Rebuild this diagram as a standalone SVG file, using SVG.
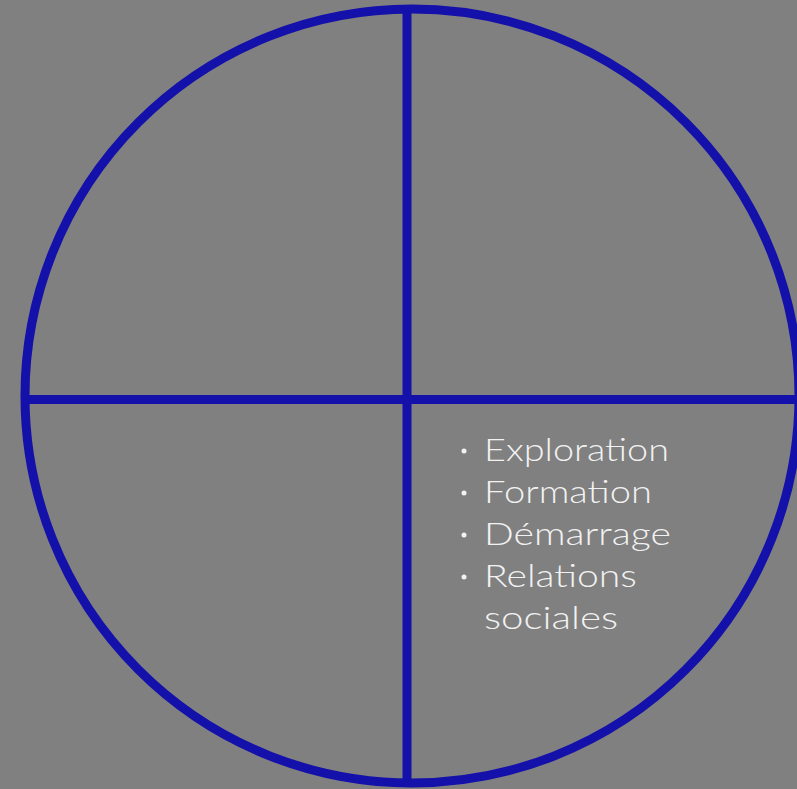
<svg xmlns="http://www.w3.org/2000/svg" width="797" height="789" viewBox="0 0 797 789">
<style>
.ln{stroke:#1410AA;stroke-width:9;fill:none}
.t{font-family:Lato,"Open Sans","Liberation Sans",sans-serif;font-weight:300;font-size:31px;fill:#f2f2f2}
.b{fill:#f2f2f2}
</style>
<rect width="797" height="789" fill="#808080"/>
<g id="circle"><circle class="ln" cx="412" cy="396" r="387"/></g>
<g id="connectors">
<line class="ln" x1="407" y1="8" x2="407" y2="783"/>
<line class="ln" x1="25" y1="399.5" x2="797" y2="399.5"/>
</g>
<g id="list">
<circle class="b" cx="464" cy="451" r="2.5"/>
<circle class="b" cx="464" cy="493" r="2.5"/>
<circle class="b" cx="464" cy="535" r="2.5"/>
<circle class="b" cx="464" cy="577" r="2.5"/>
<text class="t" x="484" y="461" textLength="185" lengthAdjust="spacingAndGlyphs">Exploration</text>
<text class="t" x="484" y="503" textLength="168" lengthAdjust="spacingAndGlyphs">Formation</text>
<text class="t" x="484" y="545" textLength="187" lengthAdjust="spacingAndGlyphs">Démarrage</text>
<text class="t" x="484" y="587" textLength="153" lengthAdjust="spacingAndGlyphs">Relations</text>
<text class="t" x="484" y="629" textLength="134" lengthAdjust="spacingAndGlyphs">sociales</text>
</g>
</svg>
